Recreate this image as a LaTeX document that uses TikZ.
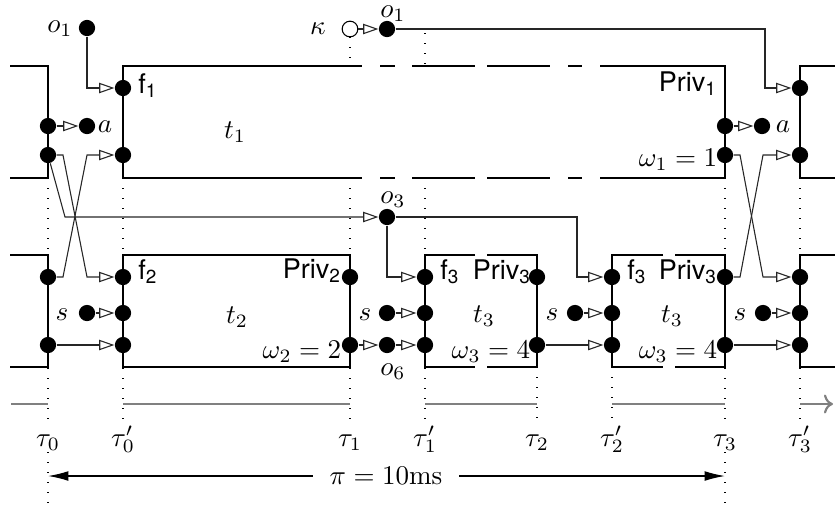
\documentclass[tikz,border=0pt]{standalone}
\usepackage{fontspec}
\setsansfont{TeX Gyre Heros}
\usetikzlibrary{arrows.meta}

\newcommand{\sflab}[2]{\textsf{#1}$_{\mathsf{#2}}$}

\begin{document}
\begin{tikzpicture}[x=0.013cm,y=-0.013cm,
    dot/.style={circle,fill,inner sep=0pt,minimum size=6pt},
    hole/.style={circle,draw,fill=white,inner sep=0pt,minimum size=5.8pt},
    boxline/.style={line width=1pt},
    guide/.style={line width=0.5pt,dash pattern=on 0.5pt off 3.2pt},
    conn/.style={line width=0.4pt,black!85,-{Triangle[open,length=5.6pt,width=3.8pt]}},
    timeline/.style={gray,line width=0.8pt},
    span/.style={line width=0.5pt,-{Latex[length=7.5pt,width=3.6pt]}}]

    \useasboundingbox (0,0) rectangle (835,510);

    % dotted time marks
    \draw[guide] (350,37) -- (350,66) (425,33) -- (425,66);
    \foreach \x in {48,123,350,425,725,800}
        \draw[guide] (\x,178) -- (\x,425);
    \foreach \x in {537,612}
        \draw[guide] (\x,367) -- (\x,425);
    \foreach \x in {48,725}
        \draw[guide] (\x,452) -- (\x,505);

    % task t1
    \draw[boxline] (10,66) -| (48,178) -- (10,178);
    \draw[boxline] (350,66) -- (123,66) -- (123,178) -- (350,178);
    \draw[boxline] (612,66) -- (725,66) -- (725,178) -- (612,178);
    \foreach \a/\b in {350/362,380/395,412/475,487/550,568/582,600/612}
        \draw[boxline] (\a,66) -- (\b,66) (\a,178) -- (\b,178);
    \draw[boxline] (835,66) -| (800,178) -- (835,178);

    % tasks t2, t3
    \draw[boxline] (10,255) -| (48,367) -- (10,367);
    \draw[boxline] (123,255) rectangle (350,367);
    \draw[boxline] (475,255) -| (425,367) -- (475,367);
    \draw[boxline] (487,255) -| (537,367) -- (487,367);
    \draw[boxline] (663,255) -| (612,367) -- (663,367);
    \draw[boxline] (675,255) -| (725,367) -- (675,367);
    \draw[boxline] (835,255) -| (800,367) -- (835,367);

    % ports of t1
    \node[dot] (pa0) at (48,126) {};
    \node[dot] (pb0) at (48,155) {};
    \node[dot] (a0) at (87,126) {};
    \node[dot] (o1l) at (87,28) {};
    \node[dot] (f1) at (123,88) {};
    \node[dot] (in1) at (123,155) {};
    \node[hole] (kap) at (350,29) {};
    \node[dot] (o1) at (387,29) {};
    \node[dot] (pa1) at (725,126) {};
    \node[dot] (pb1) at (725,155) {};
    \node[dot] (a1) at (762,126) {};
    \node[dot] (f1r) at (800,88) {};
    \node[dot] (in1r) at (800,155) {};

    % ports of t2, t3
    \node[dot] (q0) at (48,277) {};
    \node[dot] (r0) at (48,345) {};
    \node[dot] (s0) at (87,313) {};
    \node[dot] (f2) at (123,277) {};
    \node[dot] (s2) at (123,313) {};
    \node[dot] (in2) at (123,345) {};
    \node[dot] (pr2) at (350,277) {};
    \node[dot] (out2) at (350,345) {};
    \node[dot] (o3) at (387,217) {};
    \node[dot] (s1) at (387,313) {};
    \node[dot] (o6) at (387,345) {};
    \node[dot] (f3) at (425,277) {};
    \node[dot] (s3) at (425,313) {};
    \node[dot] (in3) at (425,345) {};
    \node[dot] (pr3) at (537,277) {};
    \node[dot] (out3) at (537,345) {};
    \node[dot] (s4) at (575,313) {};
    \node[dot] (f3b) at (612,277) {};
    \node[dot] (s3b) at (612,313) {};
    \node[dot] (in3b) at (612,345) {};
    \node[dot] (pr3b) at (725,277) {};
    \node[dot] (out3b) at (725,345) {};
    \node[dot] (s5) at (763,313) {};
    \node[dot] (f2r) at (800,277) {};
    \node[dot] (s2r) at (800,313) {};
    \node[dot] (in2r) at (800,345) {};

    \coordinate (c1) at (765,29);
    \coordinate (c3) at (577,217);

    % connections
    \draw[conn] (pa0) -- (a0);
    \draw[conn] (pa1) -- (a1);
    \draw[conn] (o1l) |- (f1);
    \draw[conn] (kap) -- (o1);
    \draw[conn] (o1) -- (c1) |- (f1r);
    \draw[conn] (pb0) -- ++(15,0) -- ++(24,122) -- (f2);
    \draw[conn] (q0) -- ++(15,0) -- ++(24,-122) -- (in1);
    \draw[conn] (pb0) -- ++(17,62) -- (o3);
    \draw[conn] (pb1) -- ++(15,0) -- ++(23,122) -- (f2r);
    \draw[conn] (pr3b) -- ++(15,0) -- ++(23,-122) -- (in1r);
    \draw[conn] (o3) |- (f3);
    \draw[conn] (o3) -- (c3) |- (f3b);
    \draw[conn] (s0) -- (s2);
    \draw[conn] (r0) -- (in2);
    \draw[conn] (out2) -- (o6);
    \draw[conn] (o6) -- (in3);
    \draw[conn] (s1) -- (s3);
    \draw[conn] (out3) -- (in3b);
    \draw[conn] (s4) -- (s3b);
    \draw[conn] (out3b) -- (in2r);
    \draw[conn] (s5) -- (s2r);

    % labels
    \node (lo1l) at (60,29) {$o_1$};
    \node (lkap) at (318,29) {$\kappa$};
    \node (lo1) at (393,14) {$o_1$};
    \node (la0) at (105,127) {$a$};
    \node (la1) at (783,127) {$a$};
    \node (lf1) at (148,86) {\sflab{f}{1}};
    \node (lt1) at (235,132) {$t_1$};
    \node (lpriv1) at (688,84) {\sflab{Priv}{1}};
    \node (lw1) at (678,160) {$\omega_1 = 1$};
    \node (lf2) at (148,272) {\sflab{f}{2}};
    \node (ls0) at (62,315) {$s$};
    \node (lt2) at (237,317) {$t_2$};
    \node (lpriv2) at (312,271) {\sflab{Priv}{2}};
    \node (lw2) at (302,352) {$\omega_2 = 2$};
    \node (lo3) at (393,200) {$o_3$};
    \node (lo6) at (393,372) {$o_6$};
    \node (ls1) at (365,315) {$s$};
    \node (lf3) at (450,272) {\sflab{f}{3}};
    \node (lpriv3) at (502,272) {\sflab{Priv}{3}};
    \node (lt3) at (484,316) {$t_3$};
    \node (lw3) at (491,352) {$\omega_3 = 4$};
    \node (ls4) at (552,315) {$s$};
    \node (lf3b) at (637,272) {\sflab{f}{3}};
    \node (lpriv3b) at (688,272) {\sflab{Priv}{3}};
    \node (lt3b) at (672,316) {$t_3$};
    \node (lw3b) at (678,352) {$\omega_3 = 4$};
    \node (ls5) at (740,315) {$s$};

    % time axis
    \foreach \a/\b in {11/48,123/350,425/537,612/725}
        \draw[timeline] (\a,404) -- (\b,404);
    \draw[timeline,->] (800,404) -- (833,404);
    \foreach \x/\n/\l in {48/tau0/{\tau_0},123/tau0p/{\tau'_0},350/tau1/{\tau_1},
        425/tau1p/{\tau'_1},537/tau2/{\tau_2},612/tau2p/{\tau'_2},725/tau3/{\tau_3},800/tau3p/{\tau'_3}}
        \node[anchor=base] (\n) at (\x,446) {$\l$};

    % period
    \coordinate (p0) at (48,476);
    \coordinate (p3) at (725,476);
    \node[inner xsep=6pt] (per) at (386,476) {$\pi = 10\mathrm{ms}$};
    \draw[span] (per) -- (p0);
    \draw[span] (per) -- (p3);
\end{tikzpicture}
\end{document}
